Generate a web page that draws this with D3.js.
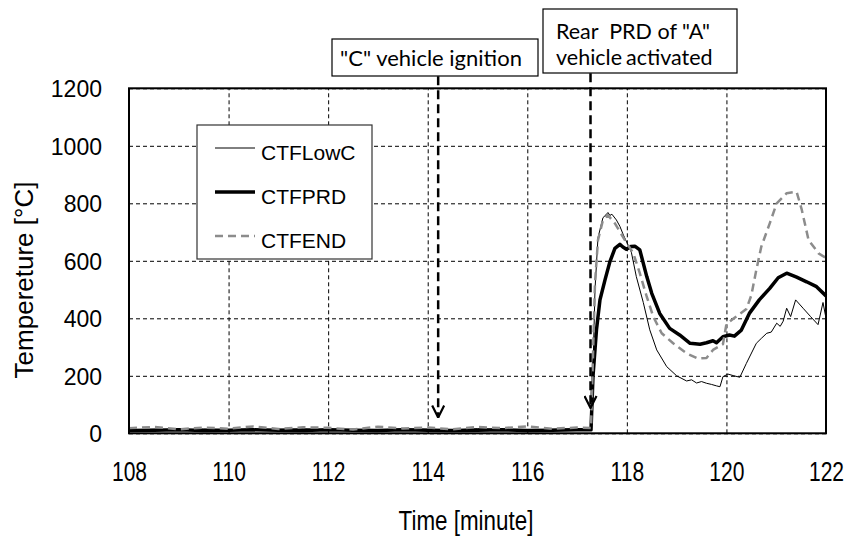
<!DOCTYPE html>
<html lang="en">
<head>
    <title>Temperature chart</title>
    <script src='https://d3js.org/d3.v7.min.js'></script>
    <style>
        body { margin: 0; background: #fff; }
    </style>
</head>
<body>
    <script>
        var width = 851, height = 537;

        // time axis ticks and temperature ticks
        var timeTicks = [108, 110, 112, 114, 116, 118, 120, 122];
        var tempTicks = [0, 200, 400, 600, 800, 1000, 1200];

        // CTFLowC (thin black)
        var lowcTime = [108, 108.5, 109, 109.5, 110, 110.5, 111, 111.5, 112, 112.5, 113, 113.5, 114, 114.5, 115, 115.5, 116, 116.5, 117, 117.29,
            117.36, 117.42, 117.52, 117.58, 117.62, 117.66, 117.70, 117.79, 117.86, 117.93, 118.09, 118.19, 118.33, 118.46, 118.60, 118.80, 119.00, 119.20,
            119.30, 119.40, 119.50, 119.60, 119.70, 119.80, 119.87, 119.93, 120.03, 120.15, 120.27, 120.40, 120.60, 120.70, 120.81, 120.90, 121.01, 121.08, 121.14, 121.21, 121.29, 121.39,
            121.54, 121.69, 121.84, 121.94, 122.00];
        var lowcTemp = [12, 14, 11, 15, 13, 10, 14, 16, 12, 13, 11, 15, 14, 12, 16, 13, 11, 14, 15, 15,
            500, 680, 750, 760, 768, 758, 762, 742, 720, 690, 630, 545, 455, 360, 290, 232, 200, 182,
            186, 175, 180, 174, 170, 165, 162, 197, 206, 200, 195, 243, 313, 330, 348, 352, 383, 372, 390, 435, 406, 464,
            435, 406, 378, 455, 400];

        // CTFPRD (thick black)
        var prdTime = [108, 108.5, 109, 109.5, 110, 110.5, 111, 111.5, 112, 112.5, 113, 113.5, 114, 114.5, 115, 115.5, 116, 116.5, 117, 117.28,
            117.32, 117.39, 117.46, 117.56, 117.66, 117.76, 117.86, 117.92, 117.99, 118.08, 118.16, 118.26, 118.40, 118.50, 118.66, 118.86,
            119.06, 119.27, 119.47, 119.60, 119.73, 119.80, 119.93, 120.06, 120.16, 120.30, 120.46, 120.66, 120.87, 121.04, 121.21, 121.41,
            121.61, 121.81, 122.00];
        var prdTemp = [10, 11, 12, 10, 11, 12, 11, 10, 12, 11, 10, 12, 11, 10, 11, 12, 10, 11, 12, 12,
            200, 360, 464, 533, 597, 643, 657, 648, 640, 650, 651, 638, 545, 487, 417, 365,
            342, 313, 310, 315, 322, 315, 336, 342, 338, 359, 417, 464, 504, 541, 557, 543,
            527, 510, 478];

        // CTFEND (grey dashed)
        var endTime = [108, 108.5, 109, 109.5, 110, 110.5, 111, 111.5, 112, 112.5, 113, 113.5, 114, 114.5, 115, 115.5, 116, 116.5, 117, 117.28,
            117.36, 117.42, 117.52, 117.62, 117.76, 117.96, 118.13, 118.26, 118.40, 118.53, 118.70, 118.93, 119.20, 119.43, 119.60, 119.73,
            119.93, 120.00, 120.15, 120.40, 120.50, 120.60, 120.70, 120.87, 121.01, 121.21, 121.41, 121.51, 121.65, 121.85, 122.00];
        var endTemp = [18, 22, 14, 20, 16, 24, 15, 21, 19, 13, 23, 17, 20, 14, 22, 18, 24, 16, 20, 18,
            522, 672, 742, 759, 730, 672, 626, 557, 475, 406, 348, 313, 278, 260, 262, 290,
            310, 380, 400, 432, 480, 568, 649, 730, 800, 835, 840, 780, 672, 626, 610];

        var seriesNames = ["CTFLowC", "CTFPRD", "CTFEND"];

        // arrows: time where they point, temp at top and tip
        var arrowTime = [114.21, 117.27];
        var arrowTop = [1242, 1252];
        var arrowTip = [55, 88];

        var series = [
            { name: seriesNames[0], t: lowcTime, v: lowcTemp, color: "#000", w: 1, dash: null },
            { name: seriesNames[1], t: prdTime, v: prdTemp, color: "#000", w: 3.5, dash: null },
            { name: seriesNames[2], t: endTime, v: endTemp, color: "#8c8c8c", w: 2.5, dash: "8,5" }
        ];

        var narrow = "'Liberation Sans', Arial, sans-serif";

        var svg = d3.select('body')
            .append('svg')
            .attr('width', width)
            .attr('height', height);

        var x = d3.scaleLinear().domain([108, 122]).range([129, 826]);
        var y = d3.scaleLinear().domain([0, 1200]).range([433.3, 88.3]);

        // grid lines
        svg.append('g')
            .attr('transform', 'translate(0,' + y(0) + ')')
            .call(d3.axisBottom(x).tickValues(timeTicks).tickSize(-(y(0) - y(1200))).tickFormat(''))
            .call(function(g) {
                g.select('.domain').remove();
                g.selectAll('line').attr('stroke', '#000').attr('stroke-width', 1).attr('stroke-dasharray', '4,3');
            });
        svg.append('g')
            .attr('transform', 'translate(' + x(108) + ',0)')
            .call(d3.axisLeft(y).tickValues(tempTicks).tickSize(-(x(122) - x(108))).tickFormat(''))
            .call(function(g) {
                g.select('.domain').remove();
                g.selectAll('line').attr('stroke', '#000').attr('stroke-width', 1).attr('stroke-dasharray', '4,3');
            });

        // tick labels (x labels squeezed to look condensed)
        svg.append('g')
            .attr('transform', 'translate(0,' + y(0) + ')')
            .call(d3.axisBottom(x).tickValues(timeTicks).tickSize(0).tickPadding(0).tickFormat(d3.format('d')))
            .call(function(g) {
                g.select('.domain').remove();
                g.selectAll('text').attr('font-family', narrow)
                    .attr('font-size', 27).attr('fill', '#000')
                    .attr('y', 0).attr('dy', 0)
                    .attr('transform', 'translate(0,48) scale(0.78,1)');
            });
        svg.append('g')
            .attr('transform', 'translate(' + x(108) + ',0)')
            .call(d3.axisLeft(y).tickValues(tempTicks).tickSize(0).tickPadding(27).tickFormat(d3.format('d')))
            .call(function(g) {
                g.select('.domain').remove();
                g.selectAll('text').attr('font-family', "'Liberation Sans', Arial, sans-serif")
                    .attr('font-size', 23).attr('fill', '#000').attr('dy', '0.36em');
            });

        // lines
        var line = d3.line()
            .x(function(d) { return x(d[0]); })
            .y(function(d) { return y(d[1]); });

        series.forEach(function(s) {
            var pts = s.t.map(function(t, i) { return [t, s.v[i]]; });
            svg.append('path')
                .datum(pts)
                .attr('d', line)
                .attr('fill', 'none')
                .attr('stroke', s.color)
                .attr('stroke-width', s.w)
                .attr('stroke-dasharray', s.dash)
                .attr('stroke-linejoin', 'round');
        });

        // plot frame
        svg.append('rect')
            .attr('x', x(108)).attr('y', y(1200))
            .attr('width', x(122) - x(108)).attr('height', y(0) - y(1200))
            .attr('fill', 'none').attr('stroke', '#000').attr('stroke-width', 2);

        // axis titles
        svg.append('text')
            .attr('transform', 'translate(466,530) scale(0.8,1)')
            .attr('text-anchor', 'middle')
            .attr('font-family', narrow)
            .attr('font-size', 28)
            .text('Time [minute]');
        svg.append('text')
            .attr('transform', 'translate(33,280) rotate(-90)')
            .attr('text-anchor', 'middle')
            .attr('font-family', "'Liberation Sans', Arial, sans-serif")
            .attr('font-size', 26)
            .text('Tempereture [\u00B0C]');

        // legend
        var legend = svg.append('g').attr('transform', 'translate(197,125)');
        legend.append('rect')
            .attr('width', 175).attr('height', 134)
            .attr('fill', '#fff').attr('stroke', '#333').attr('stroke-width', 1.2);
        series.forEach(function(s, i) {
            var ly = 23 + i * 44;
            legend.append('line')
                .attr('x1', 18).attr('x2', 58).attr('y1', ly).attr('y2', ly)
                .attr('stroke', s.color).attr('stroke-width', s.w).attr('stroke-dasharray', s.dash);
            legend.append('text')
                .attr('x', 64).attr('y', ly + 12)
                .attr('font-family', "'Liberation Sans', Arial, sans-serif")
                .attr('font-size', 21)
                .text(s.name);
        });

        // arrow head
        svg.append('defs').append('marker')
            .attr('id', 'head')
            .attr('viewBox', '0 0 14 14')
            .attr('refX', 7).attr('refY', 13)
            .attr('markerWidth', 14).attr('markerHeight', 14)
            .attr('markerUnits', 'userSpaceOnUse')
            .attr('orient', '0')
            .append('path')
            .attr('d', 'M1,1 L7,13 L13,1')
            .attr('fill', 'none').attr('stroke', '#000').attr('stroke-width', 2.2);

        arrowTime.forEach(function(t, i) {
            svg.append('line')
                .attr('x1', x(t)).attr('x2', x(t))
                .attr('y1', y(arrowTop[i])).attr('y2', y(arrowTip[i]))
                .attr('stroke', '#000').attr('stroke-width', 2.5)
                .attr('stroke-dasharray', '9,5')
                .attr('marker-end', 'url(#head)');
        });

        // annotation boxes
        var annoFont = "Lato, 'Open Sans', sans-serif";
        var box1 = svg.append('g');
        box1.append('rect')
            .attr('x', 332).attr('y', 39).attr('width', 206).attr('height', 37)
            .attr('fill', '#fff').attr('stroke', '#000').attr('stroke-width', 1.2);
        box1.append('text')
            .attr('x', 431).attr('y', 66)
            .attr('text-anchor', 'middle')
            .attr('font-family', annoFont).attr('font-size', 22)
            .text('"C" vehicle ignition');

        var box2 = svg.append('g');
        box2.append('rect')
            .attr('x', 543).attr('y', 9).attr('width', 194).attr('height', 64)
            .attr('fill', '#fff').attr('stroke', '#000').attr('stroke-width', 1.2);
        box2.append('text')
            .attr('x', 556).attr('y', 39)
            .attr('font-family', annoFont).attr('font-size', 21.5)
            .attr('xml:space', 'preserve')
            .style('white-space', 'pre')
            .text('Rear  PRD of "A"');
        box2.append('text')
            .attr('x', 556).attr('y', 65)
            .attr('font-family', annoFont).attr('font-size', 21.5)
            .attr('word-spacing', -1.5)
            .text('vehicle activated');
    </script>
</body>
</html>
